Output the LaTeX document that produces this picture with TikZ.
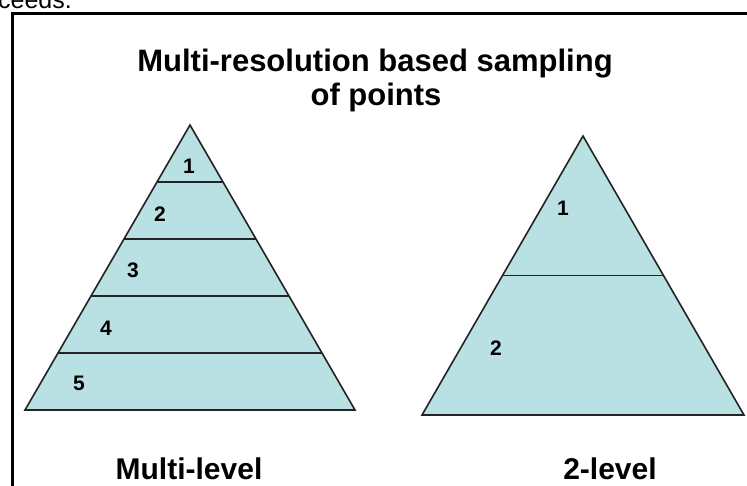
\documentclass[tikz,border=0pt]{standalone}
\usepackage{fontspec}
\setmainfont{Liberation Sans}
\usetikzlibrary{calc}
\definecolor{pyrfill}{RGB}{185,224,227}
\definecolor{pyrline}{RGB}{35,35,35}
\tikzset{
  pyr/.style={fill=pyrfill,draw=pyrline,line width=1.6pt,line join=miter},
  divider/.style={draw=pyrline,line width=1.8pt},
  frameline/.style={draw=black,line width=3pt},
  titletext/.style={font=\fontsize{31}{34}\selectfont\bfseries,anchor=base,inner sep=0pt},
  captext/.style={font=\fontsize{30}{34}\selectfont\bfseries,anchor=base,inner sep=0pt},
  numtext/.style={font=\fontsize{21}{24}\selectfont\bfseries,inner sep=0pt},
  cuttext/.style={font=\fontsize{25}{28}\selectfont,anchor=base east,inner sep=0pt}
}
\begin{document}
\begin{tikzpicture}[x=1pt,y=-1pt]
\useasboundingbox (0,0) rectangle (747,485);
\clip (0,0) rectangle (747,485);
% cut-off text from surrounding page
\node[cuttext] (cut) at (72,8) {ceeds.};
% frame
\draw[frameline] (12.5,13.5) -- (760,13.5);
\draw[frameline] (12.5,12) -- (12.5,500);
% title
\node[titletext] (t1) at (375,71) {Multi-resolution based sampling};
\node[titletext] (t2) at (376,105) {of points};
% left pyramid
\coordinate (LA) at (190,125);
\coordinate (LL) at (25,410);
\coordinate (LR) at (355,410);
\draw[pyr] (LA) -- (LL) -- (LR) -- cycle;
\foreach \t in {0.2,0.4,0.6,0.8}{
  \draw[divider] ($(LA)!\t!(LL)$) -- ($(LA)!\t!(LR)$);
}
\node[numtext] (l1) at (189,166) {1};
\node[numtext] (l2) at (160,214) {2};
\node[numtext] (l3) at (133,270) {3};
\node[numtext] (l4) at (106,328) {4};
\node[numtext] (l5) at (79,383) {5};
% right pyramid
\coordinate (RA) at (583,136);
\coordinate (RL) at (422,415);
\coordinate (RR) at (744,415);
\draw[pyr] (RA) -- (RL) -- (RR) -- cycle;
\draw[divider] ($(RA)!0.5!(RL)$) -- ($(RA)!0.5!(RR)$);
\node[numtext] (r1) at (563,208) {1};
\node[numtext] (r2) at (496,348) {2};
% captions
\node[captext] (c1) at (189,479) {Multi-level};
\node[captext] (c2) at (610,479) {2-level};
\end{tikzpicture}
\end{document}
